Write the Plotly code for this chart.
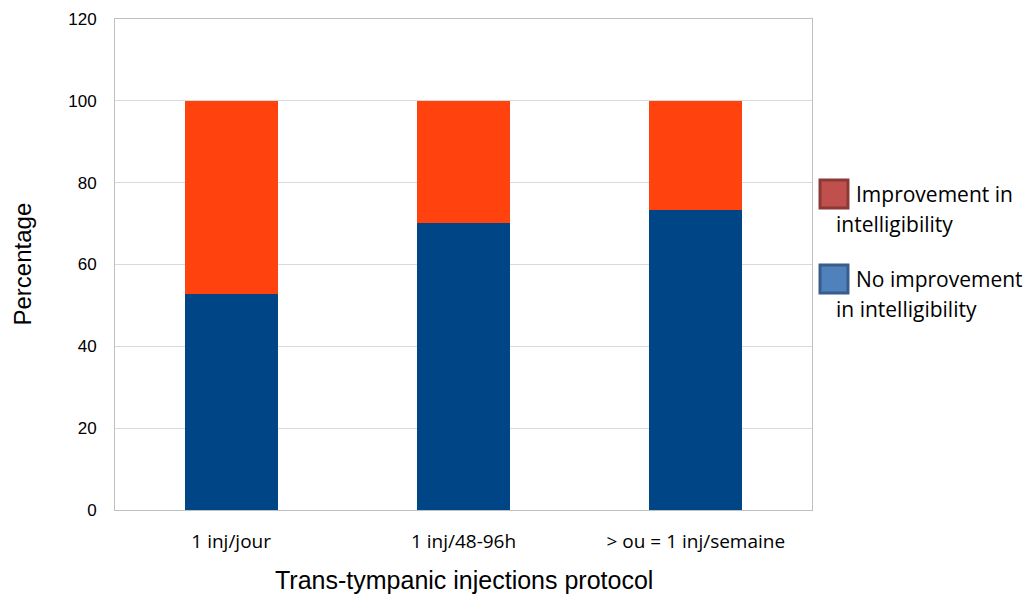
import plotly.graph_objects as go

categories = ["1 inj/jour", "1 inj/48-96h", "> ou = 1 inj/semaine"]
no_improvement = [52.8, 70.2, 73.2]
improvement = [47.2, 29.8, 26.8]
y_ticks = [0, 20, 40, 60, 80, 100, 120]
legend_labels = ["Improvement in<br>intelligibility", "No improvement<br>in intelligibility"]

fig = go.Figure()
fig.add_trace(go.Bar(x=categories, y=no_improvement, name="No improvement in intelligibility",
                     marker=dict(color="#004586", line=dict(width=0)), width=0.4))
fig.add_trace(go.Bar(x=categories, y=improvement, name="Improvement in intelligibility",
                     marker=dict(color="#FF420E", line=dict(width=0)), width=0.4))

fig.update_layout(
    barmode="stack",
    width=1023, height=599,
    margin=dict(l=115, r=211, t=19, b=89),
    paper_bgcolor="white", plot_bgcolor="white",
    showlegend=False,
    font=dict(family="Liberation Sans, Arial", color="#000000"),
    xaxis=dict(
        showgrid=False, showline=True, linecolor="#BFBFBF", linewidth=1, mirror=True,
        ticks="", ticklabelstandoff=14, automargin=False,
        tickfont=dict(family="Open Sans, Liberation Sans", size=19, color="#000"),
    ),
    yaxis=dict(
        range=[0, 120], tickvals=y_ticks, showgrid=True, gridcolor="#D9D9D9", gridwidth=1,
        showline=True, linecolor="#BFBFBF", linewidth=1, mirror=True, ticks="",
        ticklabelstandoff=14, automargin=False,
        tickfont=dict(size=17, color="#000"), zeroline=False,
    ),
)

# axis titles
fig.add_annotation(xref="paper", yref="paper", x=0.5, y=-70 / 491, text="Trans-tympanic injections protocol",
                   showarrow=False, xanchor="center", yanchor="middle", font=dict(size=25))
fig.add_annotation(xref="paper", yref="paper", x=-93 / 697, y=0.5, text="Percentage", textangle=-90,
                   showarrow=False, xanchor="center", yanchor="middle", font=dict(size=24))

# custom legend (squares with borders, wrapped text)
legend_items = [
    (legend_labels[0], "#C0504D", "#8C3836", 0.6436),
    (legend_labels[1], "#4F81BD", "#385D8A", 0.4705),
]
for label, fill, border, yc in legend_items:
    fig.add_shape(type="rect", xref="paper", yref="paper",
                  x0=1.0115, x1=1.0516, y0=yc - 0.0285, y1=yc + 0.0285,
                  fillcolor=fill, line=dict(color=border, width=3))
    first, second = label.split("<br>")
    fig.add_annotation(xref="paper", yref="paper", x=1.060, y=yc, text=first,
                       showarrow=False, xanchor="left", yanchor="middle",
                       font=dict(family="Open Sans, Liberation Sans", size=21, color="#000"))
    fig.add_annotation(xref="paper", yref="paper", x=1.032, y=yc - 0.062, text=second,
                       showarrow=False, xanchor="left", yanchor="middle",
                       font=dict(family="Open Sans, Liberation Sans", size=21, color="#000"))

fig.write_html("out.html")
